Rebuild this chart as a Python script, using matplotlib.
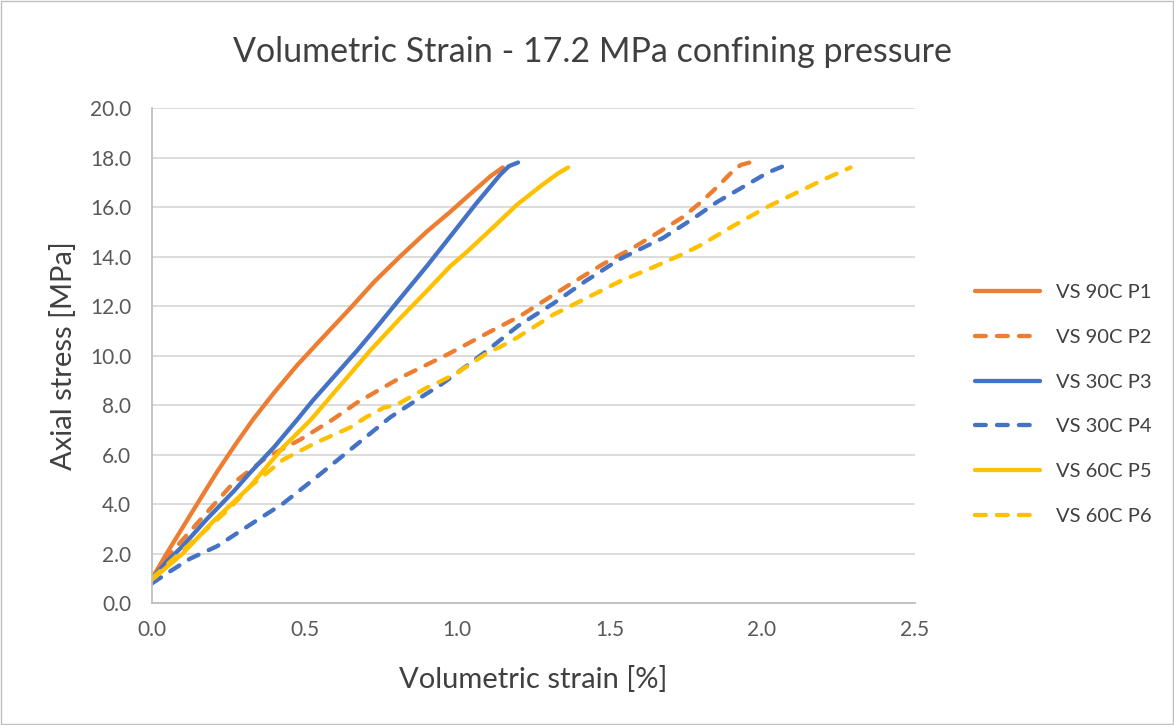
import matplotlib.pyplot as plt
import numpy as np

plt.rcParams['font.family'] = ['Lato', 'DejaVu Sans']

# series (volumetric strain [%], axial stress [MPa])
p1_x = [0.0, 0.05, 0.10, 0.16, 0.213, 0.27, 0.33, 0.40, 0.475, 0.55, 0.649, 0.73, 0.813, 0.90, 0.977, 1.05, 1.11, 1.15]
p1_y = [1.0, 2.05, 3.05, 4.25, 5.3, 6.35, 7.4, 8.5, 9.6, 10.6, 11.9, 13.0, 14.0, 15.0, 15.8, 16.6, 17.25, 17.6]

p2_x = [0.0, 0.06, 0.157, 0.266, 0.377, 0.485, 0.59, 0.672, 0.813, 0.879, 0.977, 1.098, 1.207, 1.36,
        1.479, 1.577, 1.65, 1.741, 1.80, 1.852, 1.90, 1.93, 1.96]
p2_y = [1.0, 2.0, 3.35, 4.85, 5.9, 6.6, 7.4, 8.1, 9.1, 9.5, 10.1, 10.9, 11.6, 12.8,
        13.7, 14.35, 14.9, 15.6, 16.2, 16.8, 17.4, 17.7, 17.8]

p3_x = [0.0, 0.05, 0.10, 0.18, 0.27, 0.32, 0.40, 0.475, 0.528, 0.60, 0.672, 0.74, 0.813, 0.90, 0.977,
        1.06, 1.141, 1.17, 1.2]
p3_y = [1.0, 1.7, 2.3, 3.4, 4.55, 5.25, 6.3, 7.4, 8.2, 9.2, 10.2, 11.2, 12.3, 13.6, 14.8,
        16.1, 17.3, 17.65, 17.8]

p4_x = [0.0, 0.048, 0.125, 0.213, 0.344, 0.43, 0.53, 0.65, 0.70, 0.78, 0.879, 0.944, 1.0, 1.098, 1.2,
        1.315, 1.42, 1.534, 1.60, 1.675, 1.77, 1.852, 1.95, 2.02, 2.069]
p4_y = [0.8, 1.2, 1.8, 2.3, 3.35, 4.03, 5.0, 6.2, 6.7, 7.5, 8.3, 8.8, 9.3, 10.2, 11.2,
        12.1, 13.0, 13.9, 14.3, 14.75, 15.5, 16.2, 16.9, 17.4, 17.65]

p5_x = [0.0, 0.10, 0.20, 0.32, 0.43, 0.52, 0.60, 0.715, 0.813, 0.90, 0.977, 1.033, 1.12,
        1.197, 1.28, 1.33, 1.364]
p5_y = [0.95, 2.0, 3.3, 4.7, 6.3, 7.4, 8.55, 10.2, 11.5, 12.6, 13.6, 14.2, 15.2,
        16.1, 16.9, 17.35, 17.6]

p6_x = [0.0, 0.08, 0.18, 0.26, 0.32, 0.43, 0.54, 0.65, 0.70, 0.76, 0.80, 0.836, 0.90, 0.944,
        1.0, 1.098, 1.141, 1.2, 1.315, 1.42, 1.534, 1.63, 1.731, 1.797, 1.90, 2.016, 2.10, 2.20, 2.29]
p6_y = [1.0, 1.9, 3.0, 3.9, 4.7, 5.8, 6.5, 7.1, 7.5, 7.9, 8.0, 8.25, 8.7, 8.95,
        9.3, 10.1, 10.35, 10.75, 11.65, 12.3, 13.0, 13.5, 14.05, 14.45, 15.2, 16.0, 16.5, 17.1, 17.6]

labels = ['VS 90C P1', 'VS 90C P2', 'VS 30C P3', 'VS 30C P4', 'VS 60C P5', 'VS 60C P6']
x_ticks = [0.0, 0.5, 1.0, 1.5, 2.0, 2.5]
y_ticks = [0, 2, 4, 6, 8, 10, 12, 14, 16, 18, 20]

orange = '#ED7D31'
blue = '#4472C4'
yellow = '#FFC000'

fig = plt.figure(figsize=(11.74, 7.25), dpi=100)
ax = fig.add_axes([0.1295, 0.168, 0.6495, 0.683])

lw = 3.1
dash = (2.5, 2.6)
kw_solid = dict(lw=lw, solid_capstyle='round', solid_joinstyle='round')
kw_dash = dict(lw=lw, dashes=dash, dash_capstyle='round', dash_joinstyle='round')
ax.plot(p1_x, p1_y, color=orange, label=labels[0], **kw_solid)
ax.plot(p2_x, p2_y, color=orange, label=labels[1], **kw_dash)
ax.plot(p3_x, p3_y, color=blue, label=labels[2], **kw_solid)
ax.plot(p4_x, p4_y, color=blue, label=labels[3], **kw_dash)
ax.plot(p5_x, p5_y, color=yellow, label=labels[4], **kw_solid)
ax.plot(p6_x, p6_y, color=yellow, label=labels[5], **kw_dash)

ax.set_xlim(0, 2.5)
ax.set_ylim(0, 20)
ax.set_xticks(x_ticks)
ax.set_yticks(y_ticks)
ax.set_xticklabels(['%.1f' % v for v in x_ticks])
ax.set_yticklabels(['%.1f' % v for v in y_ticks])
ax.tick_params(length=0, labelsize=15, colors='#595959')
ax.tick_params(axis='y', pad=15)
ax.tick_params(axis='x', pad=12)
ax.grid(axis='y', color='#D9D9D9', lw=1.3)
ax.set_axisbelow(True)
for s in ['top', 'right']:
    ax.spines[s].set_visible(False)
for s in ['left', 'bottom']:
    ax.spines[s].set_color('#BFBFBF')
    ax.spines[s].set_linewidth(1.3)

ax.set_xlabel('Volumetric strain [%]', fontsize=21, color='#404040', labelpad=19)
ax.set_ylabel('Axial stress [MPa]', fontsize=21, color='#404040', labelpad=9)
# Excel centres the chart title on the whole chart area
fig.text(0.505, 0.928, 'Volumetric Strain - 17.2 MPa confining pressure', fontsize=24.5,
         color='#404040', ha='center', va='center')

fig.legend(*ax.get_legend_handles_labels(), loc='center left', bbox_to_anchor=(0.8305, 0.442),
           frameon=False, fontsize=14.5, handlelength=3.25, handletextpad=0.75,
           labelspacing=1.37, borderpad=0, borderaxespad=0, labelcolor='#404040')

# chart area border
fig.patches.append(plt.Rectangle((0.001, 0.001), 0.998, 0.998, transform=fig.transFigure,
                                 fill=False, edgecolor='#BFBFBF', lw=1))

fig.savefig('out.png', dpi=100)
